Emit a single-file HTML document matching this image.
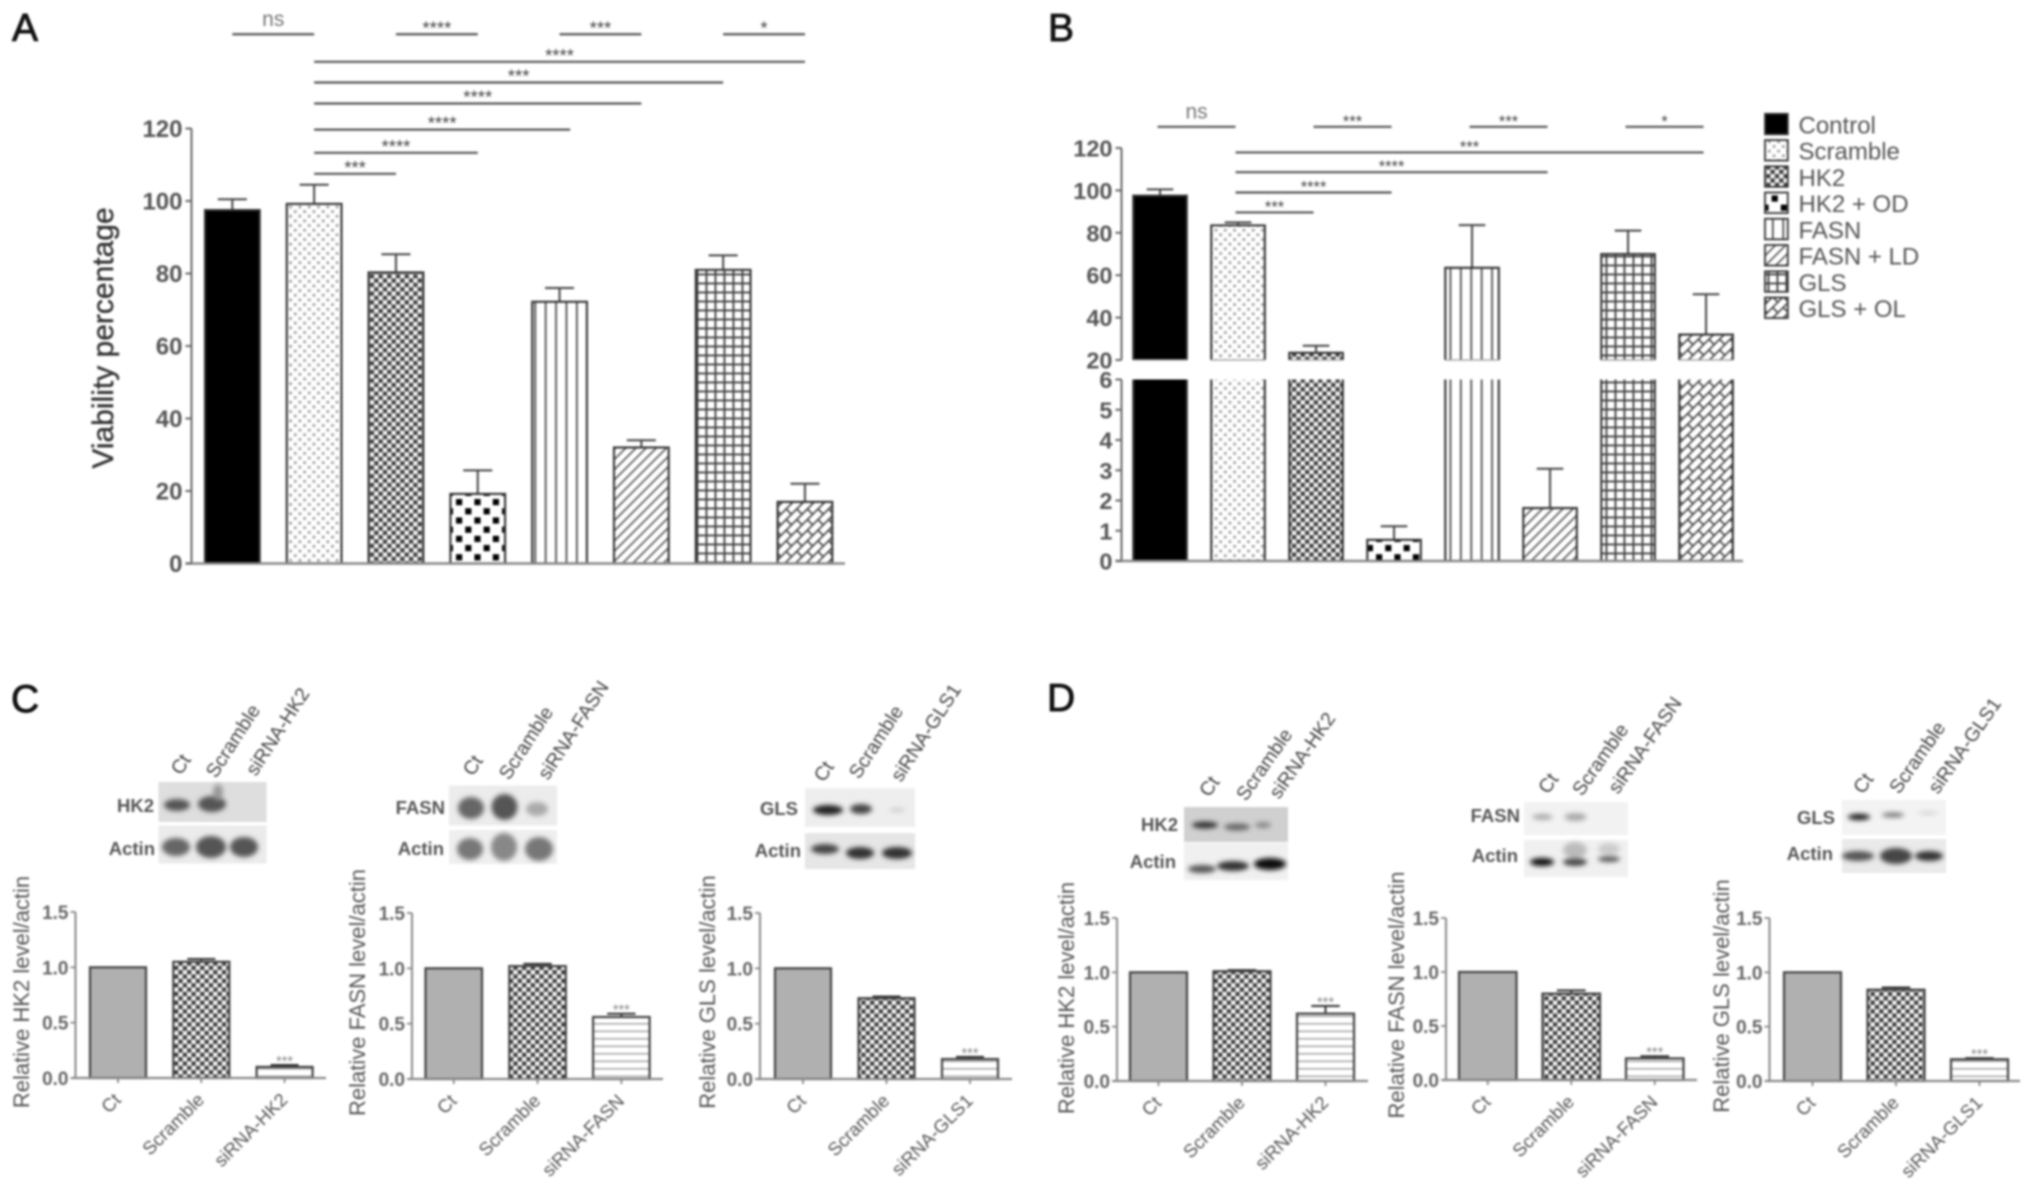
<!DOCTYPE html>
<html lang="en">
<head>
<meta charset="utf-8">
<title>Viability and knockdown figure</title>
<style>
html,body{margin:0;padding:0;background:#fff;}
#figure{display:block;width:2031px;height:1188px;filter:blur(0.95px);font-family:"Liberation Sans",sans-serif;}
</style>
</head>
<body>
<svg id="figure" xmlns="http://www.w3.org/2000/svg" width="2031" height="1188" viewBox="0 0 2031 1188">
<defs>
<pattern id="p-scramble" patternUnits="userSpaceOnUse" width="9.3" height="9.3"><rect width="9.3" height="9.3" fill="#fff"/><circle cx="2.3" cy="2.3" r="1.6" fill="#a8a8a8"/><circle cx="7" cy="7" r="1.6" fill="#a8a8a8"/></pattern>
<pattern id="p-hk2" patternUnits="userSpaceOnUse" width="8.7" height="8.7"><rect width="8.7" height="8.7" fill="#a6a6a6"/><circle cx="2.2" cy="2.2" r="1.9" fill="#333"/><circle cx="6.5" cy="6.5" r="1.9" fill="#333"/><circle cx="6.5" cy="2.2" r="1.9" fill="#fff"/><circle cx="2.2" cy="6.5" r="1.9" fill="#fff"/></pattern>
<pattern id="p-od" patternUnits="userSpaceOnUse" width="18.4" height="18.4" patternTransform="translate(14.4 2.2)"><rect width="18.4" height="18.4" fill="#fff"/><rect x="0" y="0" width="6.2" height="6.2" fill="#000"/><rect x="9.2" y="9.2" width="6.2" height="6.2" fill="#000"/></pattern>
<pattern id="p-fasn" patternUnits="userSpaceOnUse" width="10.4" height="10"><rect width="10.4" height="10" fill="#fff"/><rect x="4" width="1.7" height="10" fill="#444"/></pattern>
<pattern id="p-ld" patternUnits="userSpaceOnUse" width="7.2" height="7.2" patternTransform="rotate(45)"><rect width="7.2" height="7.2" fill="#fff"/><rect x="2.5" width="1.6" height="7.2" fill="#555"/></pattern>
<pattern id="p-gls" patternUnits="userSpaceOnUse" width="9" height="9"><rect width="9" height="9" fill="#fff"/><rect x="3.5" width="1.9" height="9" fill="#444"/><rect y="3.5" width="9" height="1.9" fill="#444"/></pattern>
<pattern id="p-ol" patternUnits="userSpaceOnUse" width="15" height="15" patternTransform="rotate(-45)"><rect width="15" height="15" fill="#fff"/><path d="M0 0.8 H15 M0 8.3 H15 M1 0.8 V8.3 M8.5 8.3 V15.8" stroke="#444" stroke-width="1.7" fill="none"/></pattern>
<pattern id="p-hlines" patternUnits="userSpaceOnUse" width="10" height="7.5"><rect width="10" height="7.5" fill="#fff"/><rect y="3" width="10" height="1.6" fill="#aaa"/></pattern>
<filter id="blot-blur" x="-40%" y="-60%" width="180%" height="220%"><feGaussianBlur stdDeviation="2.4"/></filter>
</defs>

<g font-size="39" fill="#111" stroke="#111" stroke-width="0.9">
<text x="12" y="41">A</text>
<text x="1048" y="41">B</text>
<text x="11" y="712">C</text>
<text x="1047" y="711">D</text>
</g>

<g>
<rect x="158.5" y="782" width="108" height="40" fill="#dedede"/>
<rect x="158.5" y="825.5" width="108" height="38" fill="#ebebeb"/>
<g filter="url(#blot-blur)">
<ellipse cx="177" cy="805" rx="13" ry="6" fill="#555"/><ellipse cx="212" cy="804" rx="14" ry="8" fill="#555"/><ellipse cx="218" cy="792" rx="5" ry="8" fill="#999"/>
<ellipse cx="176" cy="847" rx="14" ry="9" fill="#666"/><ellipse cx="211" cy="847" rx="15" ry="11" fill="#555"/><ellipse cx="244" cy="847" rx="14" ry="10" fill="#555"/>
</g>
</g>
<g>
<rect x="449" y="785.5" width="108" height="40" fill="#ececec"/>
<rect x="449" y="830" width="108" height="34" fill="#efefef"/>
<g filter="url(#blot-blur)">
<ellipse cx="471" cy="808" rx="13" ry="11" fill="#666"/><ellipse cx="504.5" cy="807" rx="13" ry="13" fill="#555"/><ellipse cx="537" cy="809" rx="11" ry="7" fill="#aaa"/>
<ellipse cx="470" cy="849" rx="13" ry="11" fill="#777"/><ellipse cx="504" cy="847" rx="13" ry="14" fill="#888"/><ellipse cx="539" cy="849" rx="14" ry="12" fill="#777"/>
</g>
</g>
<g>
<rect x="805" y="788" width="110" height="39" fill="#eee"/>
<rect x="805" y="833" width="110" height="36" fill="#e6e6e6"/>
<g filter="url(#blot-blur)">
<ellipse cx="828" cy="810" rx="15" ry="5" fill="#222"/><ellipse cx="861" cy="809" rx="11" ry="5" fill="#444"/><ellipse cx="897" cy="810" rx="8" ry="2" fill="#ccc"/>
<ellipse cx="825" cy="849" rx="14" ry="5" fill="#444"/><ellipse cx="860" cy="853" rx="14" ry="6" fill="#333"/><ellipse cx="897" cy="853" rx="15" ry="6" fill="#333"/>
</g>
</g>
<g>
<rect x="1184" y="807" width="104" height="35" fill="#d0d0d0"/>
<rect x="1184" y="843" width="104" height="37" fill="#f0f0f0"/>
<g filter="url(#blot-blur)">
<ellipse cx="1205" cy="825" rx="13" ry="3.5" fill="#333"/><ellipse cx="1237" cy="827" rx="13" ry="3.5" fill="#666"/><ellipse cx="1263" cy="825" rx="8" ry="3" fill="#888"/>
<ellipse cx="1202" cy="869" rx="14" ry="4" fill="#555"/><ellipse cx="1233" cy="866" rx="16" ry="5" fill="#333"/><ellipse cx="1270" cy="864" rx="16" ry="6" fill="#111"/>
</g>
</g>
<g>
<rect x="1524" y="802" width="104" height="33" fill="#f2f2f2"/>
<rect x="1524" y="840" width="104" height="37" fill="#f0f0f0"/>
<g filter="url(#blot-blur)">
<ellipse cx="1542.5" cy="817" rx="10" ry="3" fill="#aaa"/><ellipse cx="1575.5" cy="817" rx="11" ry="4" fill="#aaa"/>
<ellipse cx="1575" cy="850" rx="12" ry="8" fill="#bbb"/><ellipse cx="1609" cy="849" rx="11" ry="6" fill="#ccc"/>
<ellipse cx="1542" cy="862" rx="12" ry="4" fill="#111"/><ellipse cx="1575" cy="862" rx="12" ry="4" fill="#444"/><ellipse cx="1609" cy="859" rx="11" ry="3" fill="#555"/>
</g>
</g>
<g>
<rect x="1842" y="800" width="104" height="35" fill="#f3f3f3"/>
<rect x="1842" y="839" width="104" height="34" fill="#eaeaea"/>
<g filter="url(#blot-blur)">
<ellipse cx="1859" cy="817" rx="11" ry="3" fill="#111"/><ellipse cx="1893" cy="815" rx="11" ry="2.5" fill="#777"/><ellipse cx="1928" cy="813" rx="10" ry="1.5" fill="#ccc"/>
<ellipse cx="1858" cy="856" rx="16" ry="5" fill="#555"/><ellipse cx="1896" cy="856" rx="16" ry="8" fill="#444"/><ellipse cx="1929" cy="856" rx="14" ry="5" fill="#333"/>
</g>
</g>

<g font-size="18.5" font-weight="bold" fill="#555" text-anchor="end">
<text x="154" y="812">HK2</text>
<text x="155" y="855">Actin</text>
<text x="445" y="814">FASN</text>
<text x="444" y="855">Actin</text>
<text x="798" y="815">GLS</text>
<text x="801" y="857">Actin</text>
<text x="1178" y="831">HK2</text>
<text x="1176" y="868">Actin</text>
<text x="1520" y="822">FASN</text>
<text x="1518" y="862">Actin</text>
<text x="1835" y="824">GLS</text>
<text x="1833" y="860">Actin</text>
</g>

<g font-size="19.5" fill="#444">
<text transform="translate(181 776) rotate(-57)">Ct</text>
<text transform="translate(216 779) rotate(-57)">Scramble</text>
<text transform="translate(256 777) rotate(-57)">siRNA-HK2</text>
<text transform="translate(473 777) rotate(-57)">Ct</text>
<text transform="translate(509 781) rotate(-57)">Scramble</text>
<text transform="translate(548 781) rotate(-57)">siRNA-FASN</text>
<text transform="translate(824 783) rotate(-57)">Ct</text>
<text transform="translate(859 780) rotate(-57)">Scramble</text>
<text transform="translate(901 783) rotate(-57)">siRNA-GLS1</text>
<text transform="translate(1209 798) rotate(-55)">Ct</text>
<text transform="translate(1246 802) rotate(-55)">Scramble</text>
<text transform="translate(1279 800) rotate(-55)">siRNA-HK2</text>
<text transform="translate(1548 795) rotate(-55)">Ct</text>
<text transform="translate(1582 797) rotate(-55)">Scramble</text>
<text transform="translate(1618 795) rotate(-55)">siRNA-FASN</text>
<text transform="translate(1863 795) rotate(-55)">Ct</text>
<text transform="translate(1899 795) rotate(-55)">Scramble</text>
<text transform="translate(1938 795) rotate(-55)">siRNA-GLS1</text>
</g>
</svg>

<script>
// ---- Panel A data ----
const panelACategories = ["Control", "Scramble", "HK2", "HK2 + OD", "FASN", "FASN + LD", "GLS", "GLS + OL"];
const panelAValues = [97.5, 99.2, 80.3, 19.2, 72.2, 32, 81, 17];
const panelAErrorTops = [100.5, 104.5, 85.3, 25.7, 76, 34, 85, 22];
const panelATicks = [0, 20, 40, 60, 80, 100, 120];
const panelASigFrom = [0, 2, 4, 6, 1, 1, 1, 1, 1, 1];
const panelASigTo = [1, 3, 5, 7, 7, 6, 5, 4.13, 3, 2];
const panelASigLevels = [146, 146, 146, 146, 138.4, 132.7, 126.9, 119.7, 113.3, 107.5];
const panelASigLabels = ["ns", "****", "***", "*", "****", "***", "****", "****", "****", "***"];

// ---- Panel B data ----
const panelBCategories = ["Control", "Scramble", "HK2", "HK2 + OD", "FASN", "FASN + LD", "GLS", "GLS + OL"];
const panelBValues = [97.5, 83.5, 23.4, 0.7, 63.5, 1.75, 70, 32];
const panelBErrorTops = [100.5, 84.9, 26.7, 1.15, 83.6, 3.05, 81, 51];
const panelBLowerTicks = [0, 1, 2, 3, 4, 5, 6];
const panelBUpperTicks = [20, 40, 60, 80, 100, 120];
const panelBSigFrom = [0, 2, 4, 6, 1, 1, 1, 1];
const panelBSigTo = [1, 3, 5, 7, 7, 5, 3, 2];
const panelBSigLevels = [130, 130, 130, 130, 117.9, 108.6, 99, 89.6];
const panelBSigLabels = ["ns", "***", "***", "*", "***", "****", "****", "***"];

// ---- Small bar charts (panels C and D) ----
const smallTicks = [0, 0.5, 1, 1.5];
const c1Categories = ["Ct", "Scramble", "siRNA-HK2"];
const c1Values = [1, 1.05, 0.1];
const c1Errors = [1, 1.075, 0.118];
const c2Categories = ["Ct", "Scramble", "siRNA-FASN"];
const c2Values = [1, 1.02, 0.56];
const c2Errors = [1, 1.04, 0.59];
const c3Categories = ["Ct", "Scramble", "siRNA-GLS1"];
const c3Values = [1, 0.73, 0.18];
const c3Errors = [1, 0.745, 0.2];
const d1Categories = ["Ct", "Scramble", "siRNA-HK2"];
const d1Values = [1, 1.01, 0.62];
const d1Errors = [1, 1.02, 0.69];
const d2Categories = ["Ct", "Scramble", "siRNA-FASN"];
const d2Values = [1, 0.8, 0.2];
const d2Errors = [1, 0.83, 0.22];
const d3Categories = ["Ct", "Scramble", "siRNA-GLS1"];
const d3Values = [1, 0.84, 0.2];
const d3Errors = [1, 0.86, 0.21];

const mainFills = {
  "Control": "#000",
  "Scramble": "url(#p-scramble)",
  "HK2": "url(#p-hk2)",
  "HK2 + OD": "url(#p-od)",
  "FASN": "url(#p-fasn)",
  "FASN + LD": "url(#p-ld)",
  "GLS": "url(#p-gls)",
  "GLS + OL": "url(#p-ol)"
};
const smallFills = ["#b0b0b0", "url(#p-hk2)", "url(#p-hlines)"];

const figure = document.getElementById('figure');
const NS = 'http://www.w3.org/2000/svg';

function make(tag, attrs, parent, content) {
  const node = document.createElementNS(NS, tag);
  for (const key in attrs) node.setAttribute(key, attrs[key]);
  if (content !== undefined) node.textContent = content;
  parent.appendChild(node);
  return node;
}
function slug(s) {
  return String(s).toLowerCase().replace(/[^a-z0-9]+/g, '-').replace(/^-|-$/g, '');
}

function drawErrorBar(parent, cx, yFrom, yTop, capHalf, stroke, width) {
  const el = make('path', {
    d: 'M' + cx + ' ' + yFrom + ' V' + yTop + ' M' + (cx - capHalf) + ' ' + yTop + ' H' + (cx + capHalf),
    fill: 'none', stroke: stroke, 'stroke-width': width
  }, parent);
  
  
}

function drawSigBrackets(parent, from, to, levels, labels, xCenter, yScale, starSize, nsSize) {
  levels.forEach(function (level, i) {
    const x1 = xCenter(from[i]);
    const x2 = xCenter(to[i]);
    const yy = yScale(level);
    const line = make('line', { x1: x1, x2: x2, y1: yy, y2: yy, stroke: '#555', 'stroke-width': 2.2 }, parent);
    
    
    const isNs = labels[i] === 'ns';
    const label = make('text', {
      x: (x1 + x2) / 2,
      y: isNs ? yy - 8.5 : yy,
      'text-anchor': 'middle',
      'font-size': isNs ? nsSize : starSize,
      fill: isNs ? '#777' : '#444'
    }, parent, labels[i]);
    
    
  });
}

// ---------- Panel A ----------
(function () {
  const g = make('g', {}, figure);
  
  
  const axisX = 191.5, y0 = 563.5, yMaxPx = 128.5, yMax = 120, barLeft = 205, step = 81.8, barW = 54.7, xEnd = 845;
  const y = function (v) { return y0 - v / yMax * (y0 - yMaxPx); };
  const xc = function (i) { return barLeft + barW / 2 + i * step; };

  panelACategories.forEach(function (cat, i) {
    const cx = xc(i);
    drawErrorBar(g, cx, y(panelAValues[i]), y(panelAErrorTops[i]), 14.5, '#444', 2);
    const bar = make('rect', {
      x: cx - barW / 2, y: y(panelAValues[i]), width: barW, height: y0 - y(panelAValues[i]),
      fill: mainFills[cat], stroke: '#333', 'stroke-width': 2.1
    }, g);
    
    
  });

  const yAxis = make('line', { x1: axisX, x2: axisX, y1: yMaxPx, y2: y0, stroke: '#666', 'stroke-width': 2 }, g);
  
  
  const xAxis = make('line', { x1: axisX - 6, x2: xEnd, y1: y0, y2: y0, stroke: '#888', 'stroke-width': 2.6 }, g);
  
  

  panelATicks.forEach(function (t) {
    const tick = make('line', { x1: axisX - 6, x2: axisX, y1: y(t), y2: y(t), stroke: '#666', 'stroke-width': 2 }, g);
    
    
    const label = make('text', { x: axisX - 9, y: y(t) + 8.5, 'text-anchor': 'end', 'font-size': 24, 'font-weight': 'bold', fill: '#555' }, g, t);
    
    
  });

  const title = make('text', {
    transform: 'translate(113 338) rotate(-90)', 'text-anchor': 'middle', 'font-size': 30, fill: '#333', stroke: '#333', 'stroke-width': 0.4
  }, g, 'Viability percentage');
  
  

  drawSigBrackets(g, panelASigFrom, panelASigTo, panelASigLevels, panelASigLabels, xc, y, 18.6, 21);
})();

// ---------- Panel B ----------
(function () {
  const g = make('g', {}, figure);
  
  
  const axisX = 1121.5, lowBase = 561, lowTop = 379.5, upBase = 360, upTop = 148;
  const barLeft = 1133.3, step = 78, barW = 53.5, xEnd = 1743;
  const yLow = function (v) { return lowBase - v / 6 * (lowBase - lowTop); };
  const yUp = function (v) { return upBase - (v - 20) / 100 * (upBase - upTop); };
  const y = function (v) { return v <= 6 ? yLow(v) : yUp(v); };
  const xc = function (i) { return barLeft + barW / 2 + i * step; };

  panelBCategories.forEach(function (cat, i) {
    const cx = xc(i);
    const v = panelBValues[i];
    const l = cx - barW / 2, r = cx + barW / 2;
    drawErrorBar(g, cx, y(v), y(panelBErrorTops[i]), 13.3, '#444', 2);
    if (v > 6) {
      const upper = make('rect', {
        x: l, y: yUp(v), width: barW, height: upBase - yUp(v), fill: mainFills[cat]
      }, g);
      
      
      const upperEdges = make('path', {
        d: 'M' + l + ' ' + upBase + ' V' + yUp(v) + ' H' + r + ' V' + upBase,
        fill: 'none', stroke: '#333', 'stroke-width': 2.1
      }, g);
      
      
      const base = make('line', { x1: l, x2: r, y1: upBase, y2: upBase, stroke: '#aaa', 'stroke-width': 1.6 }, g);
      
      
      const lower = make('rect', {
        x: l, y: lowTop, width: barW, height: lowBase - lowTop, fill: mainFills[cat]
      }, g);
      
      
      const sides = make('path', {
        d: 'M' + l + ' ' + lowTop + ' V' + lowBase + ' M' + r + ' ' + lowTop + ' V' + lowBase,
        fill: 'none', stroke: '#333', 'stroke-width': 2.1
      }, g);
      
      
    } else {
      const bar = make('rect', {
        x: l, y: yLow(v), width: barW, height: lowBase - yLow(v),
        fill: mainFills[cat], stroke: '#333', 'stroke-width': 2.1
      }, g);
      
      
    }
  });

  const yAxisUp = make('line', { x1: axisX, x2: axisX, y1: upTop, y2: upBase, stroke: '#666', 'stroke-width': 2 }, g);
  
  
  const yAxisLow = make('line', { x1: axisX, x2: axisX, y1: lowTop, y2: lowBase, stroke: '#666', 'stroke-width': 2 }, g);
  
  
  const xAxis = make('line', { x1: axisX - 6, x2: xEnd, y1: lowBase, y2: lowBase, stroke: '#888', 'stroke-width': 2.6 }, g);
  
  

  panelBLowerTicks.concat(panelBUpperTicks).forEach(function (t) {
    const tick = make('line', { x1: axisX - 6, x2: axisX, y1: y(t), y2: y(t), stroke: '#666', 'stroke-width': 2 }, g);
    
    
    const label = make('text', { x: axisX - 9, y: y(t) + 8.5, 'text-anchor': 'end', 'font-size': 23.5, 'font-weight': 'bold', fill: '#555' }, g, t);
    
    
  });

  const xcSig = function (i) { return xc(i) - 2.5; };
  drawSigBrackets(g, panelBSigFrom, panelBSigTo, panelBSigLevels, panelBSigLabels, xcSig, yUp, 16.5, 21);

  // legend
  const legend = make('g', {}, g);
  
  
  panelBCategories.forEach(function (cat, i) {
    const top = 113.8 + i * 26.25;
    const swatch = make('rect', { x: 1765, y: top, width: 22.8, height: 20.5, fill: mainFills[cat], stroke: '#333', 'stroke-width': 1.8 }, legend);
    
    
    const label = make('text', { x: 1798.5, y: top + 19.5, 'font-size': 24, fill: '#555' }, legend, cat);
    
    
  });
})();

// ---------- Small charts ----------
function drawSmall(o) {
  const g = make('g', {}, figure);
  
  
  const y = function (v) { return o.y0 - v / 1.5 * (o.y0 - o.yTop); };
  const barW = o.barW;
  const xc = function (i) { return o.barLeft + barW / 2 + i * o.step; };

  o.categories.forEach(function (cat, i) {
    const cx = xc(i);
    const tick = make('line', { x1: cx, x2: cx, y1: o.y0, y2: o.y0 + 5, stroke: '#888', 'stroke-width': 1.8 }, g);
    
    
    if (o.errors[i] > o.values[i]) {
      drawErrorBar(g, cx, y(o.values[i]), y(o.errors[i]), barW * 0.25, '#333', 2);
    }
    const bar = make('rect', {
      x: cx - barW / 2, y: y(o.values[i]), width: barW, height: o.y0 - y(o.values[i]),
      fill: smallFills[i], stroke: '#444', 'stroke-width': 2.2
    }, g);
    
    
    if (i === 2) {
      const stars = make('text', { x: cx, y: y(o.errors[i]) + 1, 'text-anchor': 'middle', 'font-size': 14.6, fill: '#888' }, g, '***');
      
      
    }
    const label = make('text', {
      transform: 'translate(' + (cx + 4) + ' ' + (o.y0 + 23) + ') rotate(-45)',
      'text-anchor': 'end', 'font-size': 18.5, fill: '#555'
    }, g, cat);
    
    
  });

  const yAxis = make('line', { x1: o.axisX, x2: o.axisX, y1: o.yTop, y2: o.y0, stroke: '#888', 'stroke-width': 2 }, g);
  
  
  const xAxis = make('line', { x1: o.axisX - 4, x2: o.xEnd, y1: o.y0, y2: o.y0, stroke: '#888', 'stroke-width': 2.2 }, g);
  
  

  smallTicks.forEach(function (t) {
    const tick = make('line', { x1: o.axisX - 5, x2: o.axisX, y1: y(t), y2: y(t), stroke: '#888', 'stroke-width': 1.8 }, g);
    
    
    const label = make('text', { x: o.axisX - 7, y: y(t) + 7, 'text-anchor': 'end', 'font-size': 19, 'font-weight': 'bold', fill: '#666' }, g, t.toFixed(1));
    
    
  });

  const title = make('text', {
    transform: 'translate(' + o.titleX + ' ' + o.titleY + ') rotate(-90)',
    'text-anchor': 'middle', 'font-size': 22, fill: '#555'
  }, g, o.title);
  
  
}

drawSmall({ name: 'panel-c-hk2-chart', categories: c1Categories, values: c1Values, errors: c1Errors, axisX: 75.5, y0: 1078, yTop: 912, barLeft: 90, step: 83.3, barW: 56, xEnd: 326, title: 'Relative HK2 level/actin', titleX: 29, titleY: 992 });
drawSmall({ name: 'panel-c-fasn-chart', categories: c2Categories, values: c2Values, errors: c2Errors, axisX: 412, y0: 1079, yTop: 913, barLeft: 425.5, step: 83.8, barW: 56.5, xEnd: 663, title: 'Relative FASN level/actin', titleX: 365, titleY: 992.5 });
drawSmall({ name: 'panel-c-gls-chart', categories: c3Categories, values: c3Values, errors: c3Errors, axisX: 760, y0: 1079, yTop: 913, barLeft: 775, step: 83.5, barW: 56, xEnd: 1012, title: 'Relative GLS level/actin', titleX: 715, titleY: 992 });
drawSmall({ name: 'panel-d-hk2-chart', categories: d1Categories, values: d1Values, errors: d1Errors, axisX: 1117, y0: 1081, yTop: 918, barLeft: 1130, step: 83.5, barW: 57, xEnd: 1368, title: 'Relative HK2 level/actin', titleX: 1074, titleY: 998 });
drawSmall({ name: 'panel-d-fasn-chart', categories: d2Categories, values: d2Values, errors: d2Errors, axisX: 1446, y0: 1080, yTop: 918, barLeft: 1459, step: 83.5, barW: 57.5, xEnd: 1697, title: 'Relative FASN level/actin', titleX: 1404, titleY: 995 });
drawSmall({ name: 'panel-d-gls-chart', categories: d3Categories, values: d3Values, errors: d3Errors, axisX: 1769.5, y0: 1081, yTop: 918, barLeft: 1784, step: 83.5, barW: 57, xEnd: 2020, title: 'Relative GLS level/actin', titleX: 1729, titleY: 996 });
</script>
</body>
</html>
